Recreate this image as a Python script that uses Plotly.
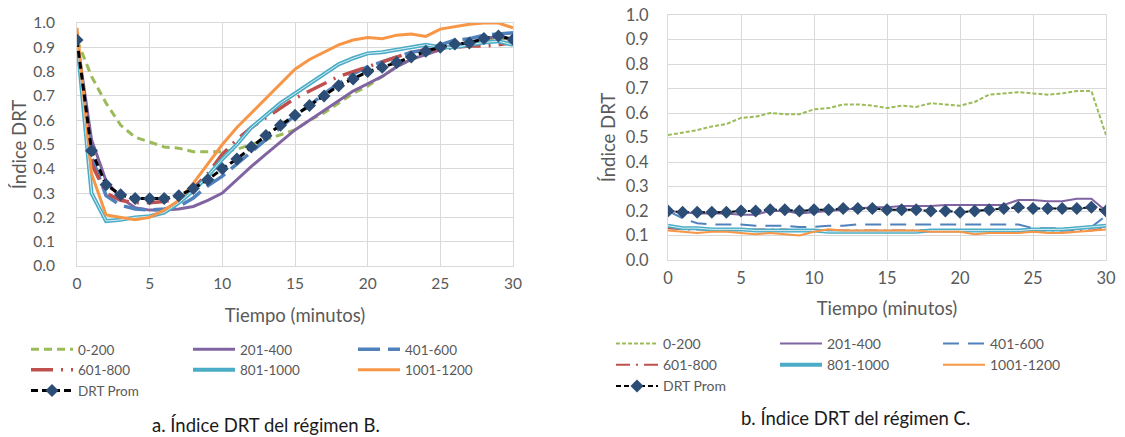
import plotly.graph_objects as go

minutes = list(range(31))
series_names = ["0-200", "201-400", "401-600", "601-800", "801-1000", "1001-1200", "DRT Prom"]

# Régimen B
b_0_200 = [0.93, 0.78, 0.67, 0.58, 0.53, 0.51, 0.49, 0.485, 0.47, 0.47, 0.47, 0.48, 0.50, 0.52, 0.54, 0.56,
           0.60, 0.63, 0.67, 0.71, 0.74, 0.78, 0.82, 0.85, 0.87, 0.89, 0.91, 0.92, 0.93, 0.94, 0.93]
b_201_400 = [0.93, 0.52, 0.35, 0.28, 0.24, 0.23, 0.23, 0.235, 0.245, 0.27, 0.30, 0.355, 0.41, 0.46, 0.51, 0.56,
             0.60, 0.64, 0.68, 0.72, 0.75, 0.78, 0.82, 0.85, 0.87, 0.89, 0.91, 0.92, 0.935, 0.945, 0.93]
b_401_600 = [0.93, 0.45, 0.29, 0.25, 0.235, 0.23, 0.235, 0.245, 0.28, 0.33, 0.37, 0.42, 0.47, 0.52, 0.57, 0.62,
             0.66, 0.71, 0.75, 0.79, 0.82, 0.84, 0.86, 0.88, 0.89, 0.91, 0.93, 0.935, 0.95, 0.955, 0.96]
b_601_800 = [0.93, 0.42, 0.30, 0.27, 0.26, 0.26, 0.265, 0.28, 0.32, 0.38, 0.46, 0.52, 0.57, 0.61, 0.65, 0.69,
             0.72, 0.75, 0.78, 0.80, 0.82, 0.84, 0.86, 0.88, 0.89, 0.89, 0.90, 0.905, 0.905, 0.91, 0.92]
b_801_1000 = [0.93, 0.30, 0.185, 0.19, 0.20, 0.205, 0.22, 0.26, 0.31, 0.37, 0.44, 0.50, 0.57, 0.62, 0.67, 0.71,
              0.75, 0.79, 0.83, 0.855, 0.875, 0.88, 0.89, 0.90, 0.91, 0.90, 0.90, 0.91, 0.92, 0.925, 0.91]
b_1001_1200 = [0.98, 0.38, 0.21, 0.20, 0.19, 0.20, 0.23, 0.27, 0.34, 0.42, 0.50, 0.57, 0.63, 0.69, 0.75, 0.81,
               0.85, 0.88, 0.91, 0.93, 0.94, 0.935, 0.95, 0.955, 0.945, 0.975, 0.985, 0.995, 1.0, 1.0, 0.98]
b_prom = [0.93, 0.474, 0.334, 0.293, 0.278, 0.277, 0.278, 0.289, 0.319, 0.355, 0.40, 0.44, 0.49, 0.537, 0.579, 0.62,
          0.66, 0.70, 0.742, 0.77, 0.80, 0.818, 0.837, 0.86, 0.884, 0.90, 0.914, 0.918, 0.936, 0.947, 0.932]

# Régimen C
c_0_200 = [0.51, 0.52, 0.53, 0.545, 0.555, 0.58, 0.585, 0.60, 0.595, 0.595, 0.615, 0.62, 0.635, 0.635, 0.63, 0.62,
           0.63, 0.625, 0.64, 0.635, 0.63, 0.645, 0.675, 0.68, 0.685, 0.68, 0.675, 0.68, 0.69, 0.69, 0.51]
c_201_400 = [0.20, 0.195, 0.19, 0.19, 0.19, 0.185, 0.185, 0.20, 0.20, 0.19, 0.195, 0.20, 0.205, 0.21, 0.215, 0.215,
             0.22, 0.22, 0.22, 0.225, 0.225, 0.225, 0.225, 0.225, 0.245, 0.245, 0.24, 0.24, 0.25, 0.25, 0.20]
c_401_600 = [0.20, 0.17, 0.15, 0.145, 0.145, 0.145, 0.14, 0.14, 0.14, 0.135, 0.135, 0.14, 0.14, 0.145, 0.145, 0.145,
             0.145, 0.145, 0.145, 0.145, 0.145, 0.145, 0.145, 0.145, 0.145, 0.13, 0.13, 0.13, 0.13, 0.135, 0.18]
c_601_800 = [0.13, 0.125, 0.125, 0.125, 0.125, 0.12, 0.125, 0.125, 0.125, 0.12, 0.12, 0.12, 0.12, 0.12, 0.12, 0.12,
             0.12, 0.12, 0.12, 0.12, 0.12, 0.12, 0.12, 0.12, 0.12, 0.12, 0.12, 0.12, 0.12, 0.12, 0.13]
c_801_1000 = [0.14, 0.13, 0.13, 0.125, 0.125, 0.125, 0.12, 0.12, 0.12, 0.12, 0.12, 0.115, 0.115, 0.115, 0.115, 0.115,
              0.115, 0.115, 0.12, 0.12, 0.12, 0.12, 0.12, 0.12, 0.12, 0.125, 0.125, 0.125, 0.13, 0.135, 0.14]
c_1001_1200 = [0.12, 0.115, 0.11, 0.115, 0.115, 0.11, 0.105, 0.11, 0.105, 0.10, 0.115, 0.125, 0.12, 0.12, 0.12, 0.12,
               0.12, 0.12, 0.115, 0.115, 0.115, 0.105, 0.11, 0.11, 0.11, 0.115, 0.11, 0.11, 0.115, 0.12, 0.125]
c_prom = [0.20, 0.195, 0.195, 0.195, 0.195, 0.20, 0.20, 0.205, 0.205, 0.20, 0.205, 0.205, 0.21, 0.21, 0.21, 0.205,
          0.205, 0.205, 0.20, 0.20, 0.195, 0.20, 0.205, 0.21, 0.215, 0.21, 0.21, 0.21, 0.21, 0.215, 0.20]

y_ticks = [0.0, 0.1, 0.2, 0.3, 0.4, 0.5, 0.6, 0.7, 0.8, 0.9, 1.0]
x_ticks = [0, 5, 10, 15, 20, 25, 30]
captions = ["a. Índice DRT del régimen B.", "b. Índice DRT del régimen C."]

GREEN, PURPLE, BLUE, RED, CYAN, ORANGE = "#9BBB59", "#8064A2", "#4F81BD", "#C0504D", "#4BACC6", "#F79646"
NAVY = "#2C4D75"
FONT = "Lato, 'Open Sans', sans-serif"
TXT = "#595959"

# the page body adds an 8px offset: work in reference pixels and shift
OFF = 8
W, H = 1125 - OFF, 437 - OFF


def px_x(p):
    return (p - OFF) / W


def px_y(p):
    return 1 - (p - OFF) / H


# legend column of each series (3 columns as in the reference)
column_of = {"0-200": 0, "601-800": 0, "DRT Prom": 0,
             "201-400": 1, "801-1000": 1,
             "401-600": 2, "1001-1200": 2}

fig = go.Figure()


def add_panel(data, xa, ya, legends, styles):
    for name, vals, st in zip(series_names, data, styles):
        color, width, dash = st
        lg = legends[column_of[name]]
        if name == "801-1000":
            fig.add_trace(go.Scatter(x=minutes, y=vals, mode="lines", name=name, legend=lg,
                                     line=dict(color=color, width=width + 1.5), xaxis=xa, yaxis=ya))
            fig.add_trace(go.Scatter(x=minutes, y=vals, mode="lines", showlegend=False, hoverinfo="skip",
                                     legend=lg,
                                     line=dict(color="white", width=max(width - 1.8, 0.8)), xaxis=xa, yaxis=ya))
        elif name == "DRT Prom":
            fig.add_trace(go.Scatter(x=minutes, y=vals, mode="lines+markers", name=name, legend=lg,
                                     line=dict(color="black", width=width, dash=dash),
                                     marker=dict(symbol="diamond", size=10, color=NAVY),
                                     xaxis=xa, yaxis=ya))
        else:
            fig.add_trace(go.Scatter(x=minutes, y=vals, mode="lines", name=name, legend=lg,
                                     line=dict(color=color, width=width, dash=dash), xaxis=xa, yaxis=ya))


styles_b = [(GREEN, 3, "8px,5px"), (PURPLE, 3, "solid"), (BLUE, 3.5, "22px,8px"),
            (RED, 3.5, "22px,8px,2px,8px"), (CYAN, 2.5, "solid"), (ORANGE, 3, "solid"), ("black", 3, "7px,4px")]
styles_c = [(GREEN, 2, "4px,2px"), (PURPLE, 2, "solid"), (BLUE, 2, "16px,9px"),
            (RED, 2, "14px,6px,2px,6px"), (CYAN, 2.5, "solid"), (ORANGE, 2, "solid"), ("black", 2, "5px,3px")]

add_panel([b_0_200, b_201_400, b_401_600, b_601_800, b_801_1000, b_1001_1200, b_prom], "x", "y",
          ["legend", "legend2", "legend3"], styles_b)
add_panel([c_0_200, c_201_400, c_401_600, c_601_800, c_801_1000, c_1001_1200, c_prom], "x2", "y2",
          ["legend4", "legend5", "legend6"], styles_c)

axis_common = dict(showgrid=True, gridcolor="#D9D9D9", gridwidth=1, zeroline=False,
                   showline=True, linecolor="#D9D9D9", linewidth=1, mirror=True, ticks="",
                   ticklabeloverflow="allow")


def legend_at(text_x_ref, top_ref, size):
    return dict(orientation="v", xanchor="left", yanchor="top", xref="paper", yref="paper",
                x=px_x(text_x_ref - 52), y=px_y(top_ref), itemwidth=42, tracegroupgap=0,
                font=dict(family=FONT, size=size, color=TXT), bgcolor="rgba(0,0,0,0)")


TITLE_FONT = dict(size=18.5, family=FONT, color=TXT)

fig.update_layout(
    width=W, height=H, margin=dict(l=0, r=0, t=0, b=0, autoexpand=False),
    paper_bgcolor="white", plot_bgcolor="white",
    font=dict(family=FONT, color=TXT),
    xaxis=dict(domain=[px_x(77), px_x(513)], anchor="y", range=[0, 30], tickvals=x_ticks,
               tickfont=dict(family=FONT, size=15.5, color=TXT), ticklabelstandoff=3,
               title=dict(text="Tiempo (minutos)", font=TITLE_FONT, standoff=18),
               **axis_common),
    yaxis=dict(domain=[px_y(266), px_y(23)], anchor="x", range=[0, 1.0], tickvals=y_ticks,
               tickformat=".1f", tickfont=dict(family=FONT, size=15.5, color=TXT), ticklabelstandoff=18,
               title=dict(text="Índice DRT", font=TITLE_FONT, standoff=15),
               **axis_common),
    xaxis2=dict(domain=[px_x(668), px_x(1106)], anchor="y2", range=[0, 30], tickvals=x_ticks,
                tickfont=dict(family=FONT, size=16.5, color=TXT), ticklabelstandoff=3,
                title=dict(text="Tiempo (minutos)", font=TITLE_FONT, standoff=15),
                **axis_common),
    yaxis2=dict(domain=[px_y(260), px_y(15)], anchor="x2", range=[0, 1.0], tickvals=y_ticks,
                tickformat=".1f", tickfont=dict(family=FONT, size=16.5, color=TXT), ticklabelstandoff=15,
                title=dict(text="Índice DRT", font=TITLE_FONT, standoff=5),
                **axis_common),
    legend=legend_at(78, 334, 13.5),
    legend2=legend_at(240, 334, 13.5),
    legend3=legend_at(405, 334, 13.5),
    legend4=legend_at(663, 328, 14),
    legend5=legend_at(827, 328, 14),
    legend6=legend_at(990, 328, 14),
    showlegend=True,
    annotations=[
        dict(text=captions[0], x=px_x(266), y=px_y(425), xref="paper", yref="paper", showarrow=False,
             font=dict(family=FONT, size=18.5, color="#1a1a1a"), xanchor="center", yanchor="middle"),
        dict(text=captions[1], x=px_x(855), y=px_y(418), xref="paper", yref="paper", showarrow=False,
             font=dict(family=FONT, size=18.5, color="#1a1a1a"), xanchor="center", yanchor="middle"),
    ],
)

fig.write_html("out.html")
